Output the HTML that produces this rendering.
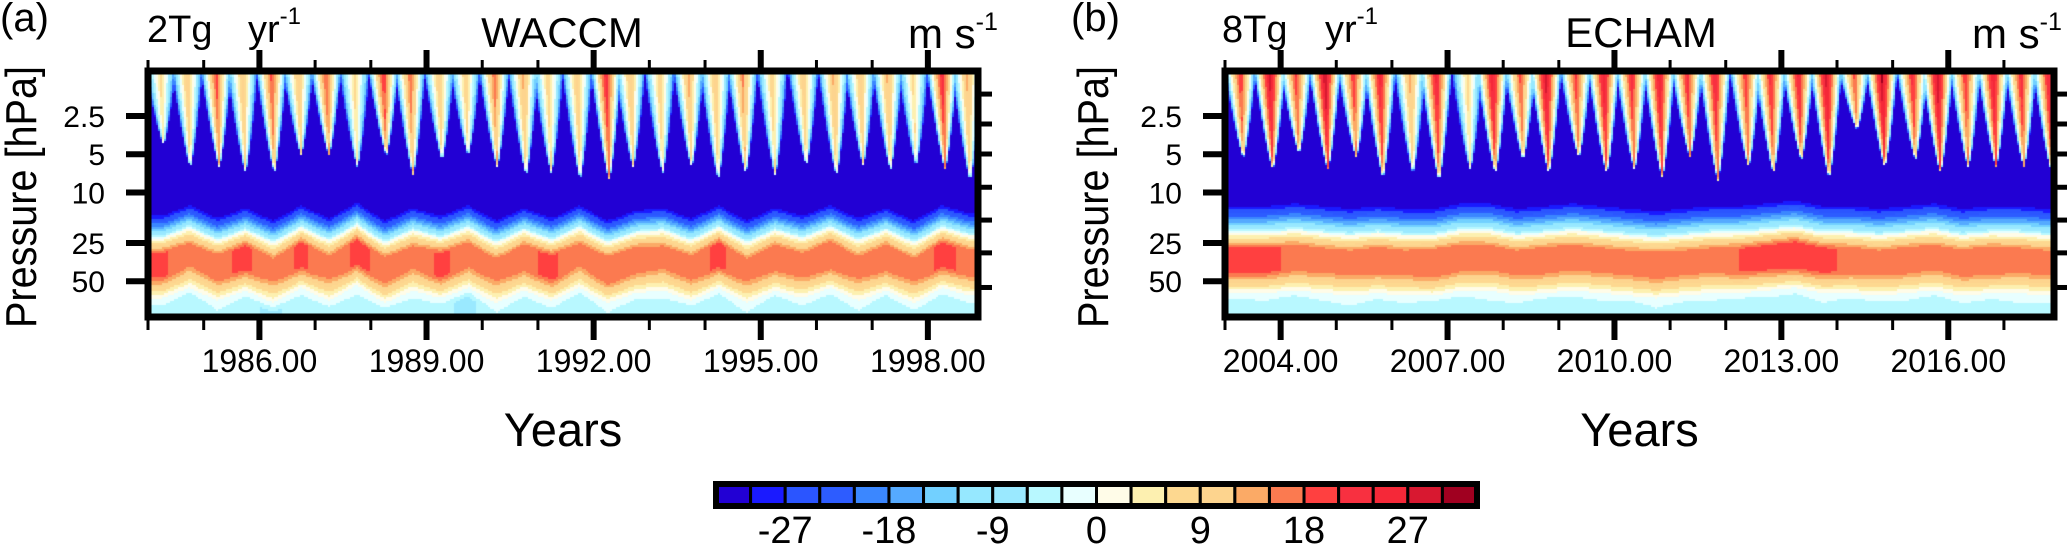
<!DOCTYPE html>
<html><head><meta charset="utf-8">
<style>
html,body{margin:0;padding:0;background:#fff;}
#wrap{position:relative;width:2067px;height:553px;overflow:hidden;font-family:"Liberation Sans",Arial,sans-serif;}
canvas{position:absolute;}
svg{position:absolute;left:0;top:0;}
</style></head>
<body>
<div id="wrap">
<canvas id="cA"></canvas>
<canvas id="cB"></canvas>
<svg id="sv" width="2067" height="553"></svg>
</div>
<script>
// ---------- data ----------
const colorLevels = ['#2200d4','#1a1aff','#2b55ff','#2d5cff','#3b87ff','#55aaff','#72d0ff','#96e8ff','#9ae9ff','#b8f8ff','#e8ffff','#fffce8','#fdf0b0','#fdd890','#fdd48e','#fbaa66','#fb7a50','#ff4040','#f83040','#f52838','#d81830','#a00020'];
const colorbarTicks = [-27,-18,-9,0,9,18,27];
const pressureTicks = [2.5,5,10,25,50];
const rightTicks = [1.68,2.89,4.98,9.1,16.5,29.9,56];
const yearTicksA = [1986,1989,1992,1995,1998];
const yearTicksB = [2004,2007,2010,2013,2016];

// Panel (a) WACCM — semiannual pulses (time, peak wind m/s, tip pressure hPa)
const pulseTimeA = [1984.22,1984.70,1985.22,1985.69,1986.21,1986.69,1987.19,1987.70,1988.22,1988.70,1989.22,1989.69,1990.21,1990.73,1991.18,1991.70,1992.22,1992.65,1993.18,1993.70,1994.18,1994.67,1995.20,1995.76,1996.30,1996.78,1997.27,1997.73,1998.25,1998.70];
const pulseAmpA = [8,12,20,12,20,12,20,8,22,18,12,10,18,14,10,12,24,12,10,14,12,16,10,12,14,12,14,8,24,14];
const pulseTipA = [4.2,6.3,6.3,6.9,6.9,5.1,5.1,6.3,5.1,7.3,5.5,5.1,6.3,7.3,7.0,7.8,8.0,6.3,7.0,6.3,7.8,7.0,7.3,6.1,7.3,6.1,6.6,6.1,6.6,8.0];
// half-yearly lower-stratosphere band: zero-wind pressure, westerly max, low-level wind
const zeroA = [23,19,24,20,25,19,24,18,25,20,23,19,25,20,24,19,25,21,20,24,19,25,20,23,19,24,20,25,19,22];
const westA = [19,15,17,19,15,19,15,19,17,15,19,16,15,17,19,15,18,17,15,16,19,15,17,16,18,15,17,15,19,17];
const lowA = [-4,-6,-3,-5,-7,-4,-5,-3,-6,-4,-5,-7,-3,-5,-4,-6,-3,-5,-4,-6,-5,-3,-6,-4,-5,-3,-6,-4,-5,-4];

// Panel (b) ECHAM
const pulseTimeB = [2003.27,2003.80,2004.27,2004.79,2005.30,2005.78,2006.32,2006.79,2007.35,2007.80,2008.30,2008.76,2009.30,2009.80,2010.30,2010.80,2011.30,2011.80,2012.35,2012.80,2013.30,2013.80,2014.30,2014.80,2015.35,2015.80,2016.30,2016.80,2017.30,2017.80];
const pulseAmpB = [22,30,22,31,22,26,14,26,8,28,20,30,22,28,24,28,24,26,22,24,26,30,20,32,24,31,22,28,24,26];
const pulseTipB = [5.3,6.6,4.9,6.6,5.3,7.6,7.0,8.0,6.6,7.0,5.5,7.0,5.3,7.0,6.6,7.6,5.3,8.0,6.3,7.0,5.5,7.6,3.2,6.3,5.5,7.0,6.3,6.3,6.3,7.0];
const zeroB = [21,21,20,21,22,21,22,22,20,20,22,21,20,21,22,23,22,21,21,20,19,21,21,22,21,20,22,21,21,22];
const westB = [19,19,17,16,16,17,16,18,17,16,16,17,16,16,16,17,16,16,18,19,20,19,17,16,17,16,17,18,16,16];
const lowB = [-5,-4,-6,-4,-3,-5,-4,-6,-5,-3,-4,-6,-5,-4,-6,-3,-5,-4,-6,-4,-5,-3,-6,-5,-4,-6,-4,-5,-3,-4];

// ---------- layout ----------
const PT=71, PB=317;
const panels = [
 {id:'cA',x0:148,x1:978,y0:1984,y1:1998.9,t:pulseTimeA,a:pulseAmpA,d:pulseTipA,z:zeroA,w:westA,l:lowA,hw:0.29,edge:0.2},
 {id:'cB',x0:1225,x1:2054,y0:2003,y1:2017.9,t:pulseTimeB,a:pulseAmpB,d:pulseTipB,z:zeroB,w:westB,l:lowB,hw:0.3,edge:0.24}
];
function yP(p){return 116+127*Math.log10(p/2.5);}
function pY(y){return 2.5*Math.pow(10,(y-116)/127);}
function xYear(P,yr){return P.x0+(yr-P.y0)*(P.x1-P.x0)/(P.y1-P.y0);}
function yearX(P,x){return P.y0+(x-P.x0)*(P.y1-P.y0)/(P.x1-P.x0);}
function halfYear(arr,P,t){const f=(t-P.y0)*2-0.5;let i=Math.floor(f);const r=f-i;
 const a=arr[Math.max(0,Math.min(arr.length-1,i))],b=arr[Math.max(0,Math.min(arr.length-1,i+1))];return a+(b-a)*r;}
function colorOf(v){let k=Math.floor((v+30)/3)+1;if(v<-30)k=0;k=Math.max(0,Math.min(21,k));return colorLevels[k];}
function value(P,t,p){
 const z=Math.log10(p);
 const z0=Math.log10(halfYear(P.z,P,t));
 const dz=z-z0;
 if(dz< -P.edge){
  let v=-33;
  for(let i=0;i<P.t.length;i++){
   const zt=Math.log10(P.d[i]); if(z>=zt) continue;
   const fr=Math.max(0,z)/zt;
   const c=P.t[i]+0.06*fr;
   const w=P.hw*Math.pow(1-fr,0.75);
   const g=1-Math.abs(t-c)/w; if(g<=0) continue;
   const A=P.a[i]*(1-0.3*fr);
   const vv=-33+(A+33)*Math.pow(g,0.5);
   if(vv>v)v=vv;
  }
  return v;
 }
 const W=halfYear(P.w,P,t), L=halfYear(P.l,P,t);
 if(dz<0) return -33*Math.pow(-dz/P.edge,0.8);
 if(dz<0.12) return W*dz/0.12;
 if(dz<0.3) return W;
 if(dz<0.47) return W*(1-(dz-0.3)/0.17);
 if(dz<0.55) return L*(dz-0.47)/0.08;
 return L;
}
panels.forEach(P=>{
 const cv=document.getElementById(P.id);
 const W=P.x1-P.x0,H=PB-PT;
 cv.width=W;cv.height=H;cv.style.left=P.x0+'px';cv.style.top=PT+'px';
 const ctx=cv.getContext('2d');
 const s=2;
 for(let x=0;x<W;x+=s){const t=yearX(P,P.x0+x+s/2);
  for(let y=0;y<H;y+=s){const p=pY(PT+y+s/2);
   ctx.fillStyle=colorOf(value(P,t,p));ctx.fillRect(x,y,s,s);}}
});

// ---------- overlay ----------
const NS='http://www.w3.org/2000/svg';
const sv=document.getElementById('sv');
function el(tag,attrs,txt){const e=document.createElementNS(NS,tag);for(const k in attrs)e.setAttribute(k,attrs[k]);if(txt!==undefined)e.textContent=txt;sv.appendChild(e);return e;}
function line(x1,y1,x2,y2,w,name){const e=el('line',{x1,y1,x2,y2,stroke:'#000','stroke-width':w});
 
 return e;}
function text(x,y,s,size,anchor,name){const e=el('text',{x,y,'font-size':size,'text-anchor':anchor||'start','font-family':'Liberation Sans, Arial, sans-serif',fill:'#000'},s);
 
 return e;}

const meta=[
 {tag:'(a)',tagX:0,label:'2Tg',lx:147,yrx:248,title:'WACCM',tx:562,unitx:908,plx:36,ticks:yearTicksA},
 {tag:'(b)',tagX:1071,label:'8Tg',lx:1222,yrx:1325,title:'ECHAM',tx:1641,unitx:1972,plx:1108,ticks:yearTicksB}
];
panels.forEach((P,i)=>{
 const M=meta[i];
 const frame=el('rect',{x:P.x0,y:PT,width:P.x1-P.x0,height:PB-PT,fill:'none',stroke:'#000','stroke-width':7});
 
 
 for(let yr=Math.ceil(P.y0);yr<=P.y1;yr++){
  const x=xYear(P,yr);const maj=M.ticks.indexOf(yr)>=0;
  line(x,PT,x,PT-(maj?21:11),maj?6:3,'top-tick');
  line(x,PB,x,PB+(maj?23:13),maj?6:3,'bottom-tick');
 }
 M.ticks.forEach(yr=>text(xYear(P,yr),372,yr.toFixed(2),32,'middle','x-tick-label'));
 pressureTicks.forEach(p=>{const y=yP(p);line(P.x0-22,y,P.x0,y,6,'y-tick');text(P.x0-43,y+11,String(p),30,'end','y-tick-label');});
 rightTicks.forEach(p=>{const y=yP(p);line(P.x1,y,P.x1+14,y,5,'right-tick');});
 text(M.tagX,31,M.tag,40,'start','panel-label');
 text(M.lx,42,M.label,38,'start','emission-label');
 const yr=text(M.yrx,42,'yr',38,'start','emission-unit');
 const sup=document.createElementNS(NS,'tspan');sup.setAttribute('dy','-18');sup.setAttribute('font-size','24');sup.textContent='-1';yr.appendChild(sup);
 text(M.tx,47,M.title,42,'middle','panel-title');
 const u=text(M.unitx,48,'m s',42,'start','units-label');
 const sup2=document.createElementNS(NS,'tspan');sup2.setAttribute('dy','-18');sup2.setAttribute('font-size','25');sup2.textContent='-1';u.appendChild(sup2);
 const pl=text(M.plx,197,'Pressure [hPa]',44,'middle','y-axis-title');
 pl.setAttribute('textLength','262');
 pl.setAttribute('lengthAdjust','spacingAndGlyphs');
 pl.setAttribute('transform','rotate(-90 '+M.plx+' 197)');
 text((P.x0+P.x1)/2,446,'Years',47,'middle','x-axis-title');
});
// colorbar
const cbX=716,cbW=761,cbY=484,cbH=22,bw=cbW/colorLevels.length;
colorLevels.forEach((c,i)=>{const r=el('rect',{x:cbX+i*bw,y:cbY,width:bw,height:cbH,fill:c,stroke:'#000','stroke-width':3});
 
 });
const cbo=el('rect',{x:cbX,y:cbY,width:cbW,height:cbH,fill:'none',stroke:'#000','stroke-width':6});


colorbarTicks.forEach(v=>text(cbX+(v+33)/3*bw,543,String(v),38,'middle','colorbar-label'));
</script>
</body></html>
